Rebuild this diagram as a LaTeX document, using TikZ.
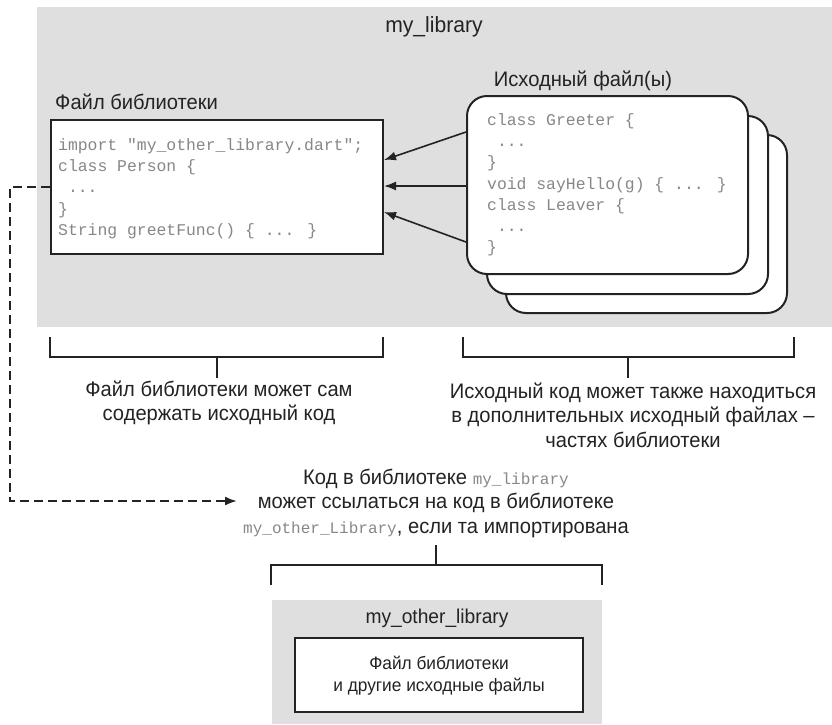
\documentclass[tikz,border=0pt]{standalone}
\usepackage{fontspec}
\setmainfont{Liberation Sans}[FakeStretch=0.96]
\newfontfamily\codefont{Liberation Mono}
\usetikzlibrary{arrows.meta}
\definecolor{libgray}{RGB}{223,223,223}
\definecolor{ink}{RGB}{35,35,35}
\definecolor{codegray}{RGB}{135,135,135}
\newcommand{\cd}[1]{{\codefont\fontsize{16}{20}\selectfont\color{codegray}#1}}
\begin{document}
\begin{tikzpicture}[x=1pt,y=-1pt,
  lbl/.style={font=\fontsize{21}{24.5}\selectfont, text=ink, inner sep=0pt, align=center},
  smalllbl/.style={font=\fontsize{18}{22}\selectfont, text=ink, inner sep=0pt, align=center},
  code/.style={font=\fontsize{16.4}{21.3}\selectfont\codefont, text=codegray, inner sep=0pt, align=left, anchor=north west},
  filebox/.style={draw=ink, line width=2pt, fill=white, inner sep=0pt},
  srcbox/.style={draw=ink, line width=2pt, fill=white, rounded corners=20pt, inner sep=0pt, minimum width=281pt, minimum height=178pt, anchor=north west},
  brace/.style={draw=ink, line width=2pt},
  arr/.style={draw=ink, line width=1.6pt, -{Latex[length=12pt,width=9pt]}},
  dasharr/.style={draw=ink, line width=2pt, dash pattern=on 9pt off 5pt, -{Latex[length=12pt,width=9pt]}},
]
\useasboundingbox (0,0) rectangle (832,724);
% my_library region
\fill[libgray] (37,7) rectangle (832,327);
\node[lbl, font=\fontsize{22}{24}\selectfont] (mylib) at (434,27) {my\_library};
\node[lbl, anchor=west] (libtitle) at (55,102) {Файл библиотеки};
\node[lbl] (srctitle) at (583,81) {Исходный файл(ы)};
% library file box
\node[filebox, minimum width=332pt, minimum height=134pt, anchor=north west] (libfile) at (50,119) {};
\node[code] (libcode) at (58,135) {\strut import "my\_other\_library.dart";\\
\strut class Person \{\\
\strut\ ...\\
\strut \}\\
\strut String greetFunc() \{ ... \}};
% source files stack
\node[srcbox] (src3) at (505,134) {};
\node[srcbox] (src2) at (486,115) {};
\node[srcbox] (src1) at (466,95) {};
\node[code] (srccode) at (487,110) {\strut class Greeter \{\\
\strut\ ...\\
\strut \}\\
\strut void sayHello(g) \{ ... \}\\
\strut class Leaver \{\\
\strut\ ...\\
\strut \}};
% arrows
\draw[arr] (src1.west |- 0,132) -- (libfile.east |- 0,160);
\draw[arr] (src1.west |- 0,186) -- (libfile.east |- 0,186);
\draw[arr] (src1.west |- 0,242) -- (libfile.east |- 0,212);
% brackets
\draw[brace] (50,337) -- (50,357) -- (383,357) -- (383,337);
\draw[brace] (217,357) -- (217,378);
\draw[brace] (463,337) -- (463,357) -- (794,357) -- (794,337);
\draw[brace] (628,357) -- (628,378);
\node[lbl] (capleft) at (219,403) {Файл библиотеки может сам\\содержать исходный код};
\node[lbl] (capright) at (633,415) {Исходный код может также находиться\\в дополнительных исходный файлах –\\частях библиотеки};
\node[lbl] (capmid) at (436,503) {Код в библиотеке \cd{my\_library}\\может ссылаться на код в библиотеке\\\cd{my\_other\_Library}, если та импортирована};
% dashed reference
\coordinate (refend) at (237,501);
\draw[dasharr] (libfile.west |- 0,187) -- (10,187) -- (10,501) -- (refend);
% bottom bracket
\draw[brace] (436,545) -- (436,565);
\draw[brace] (271,585) -- (271,565) -- (602,565) -- (602,585);
% my_other_library region
\fill[libgray] (272,600) rectangle (602,724);
\node[lbl, font=\fontsize{20}{22}\selectfont] (otherlib) at (437,618) {my\_other\_library};
\node[filebox, minimum width=288pt, minimum height=74pt] (otherfile) at (439,675) {};
\node[smalllbl] (othertext) at (439,676) {Файл библиотеки\\и другие исходные файлы};
\end{tikzpicture}
\end{document}
